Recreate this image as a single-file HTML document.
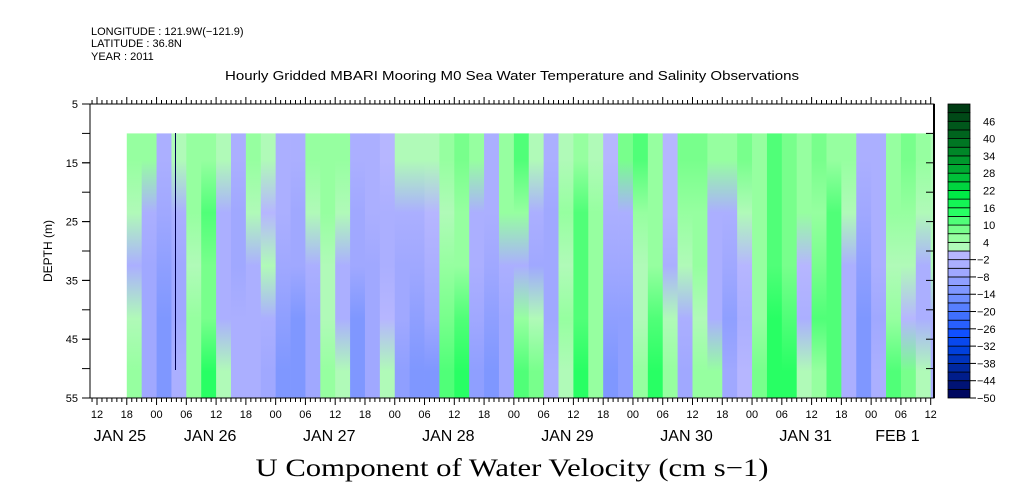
<!DOCTYPE html>
<html><head><meta charset="utf-8"><style>
html,body{margin:0;padding:0;background:#fff;}
svg{display:block;font-family:"Liberation Sans",sans-serif;}
</style></head><body>
<svg id="chart" width="1009" height="504" viewBox="0 0 1009 504" xmlns="http://www.w3.org/2000/svg">
<g font-size="11" fill="#000">
<text x="91" y="35">LONGITUDE : 121.9W(−121.9)</text>
<text x="91" y="47">LATITUDE : 36.8N</text>
<text x="91" y="60">YEAR : 2011</text>
</g>
<text x="512" y="80" font-size="12.5" text-anchor="middle" textLength="574" lengthAdjust="spacingAndGlyphs">Hourly Gridded MBARI Mooring M0 Sea Water Temperature and Salinity Observations</text>
<defs id="defs"><clipPath id="pc"><rect x="90" y="104" width="844" height="294"/></clipPath></defs>
<g id="cells" clip-path="url(#pc)"></g>
<g id="axes"></g>
<g id="cbar"></g>
<text x="0" y="0" transform="translate(52,251) rotate(-90)" font-size="12" text-anchor="middle">DEPTH (m)</text>
<text x="512" y="476" font-family="Liberation Serif, serif" font-size="25" text-anchor="middle" textLength="513" lengthAdjust="spacingAndGlyphs">U Component of Water Velocity (cm s−1)</text>
</svg>
<script>
// depth band centres (m)
const depths = [14.5, 23.5, 32.5, 41.5, 50.5];
// column start: hours after Jan 25 12:00, step 3 h
const startHour = 6;
const stepHours = 3;
// u velocity (cm/s) per column, rows = depths
const uValues = [
[5,1,-4,2,4],[5,-4,-6,-6,-8],[-5,-8,-10,-12,-12],[3,-5,-8,-6,-5],[5,4,3,4,6],
[6,10,8,8,14],[3,-3,-5,-3,2],[-3,-6,-8,-5,-5],[5,3,-3,-5,-5],[3,-2,2,-4,-6],
[-3,-5,-6,-10,-12],[-4,-6,-8,-12,-12],[4,2,-4,-6,-6],[6,4,3,3,5],[4,2,-4,-5,2],
[-4,-6,-8,-12,-12],[-3,-5,-6,-8,-8],[-2,-4,-4,-2,3],[3,-3,-6,-8,-10],[3,-4,-6,-10,-14],
[2,-2,-4,-8,-12],[4,3,4,8,10],[8,5,6,12,14],[4,-3,-5,-8,-10],[-3,-5,-6,-10,-12],
[6,4,-4,-6,-6],[10,5,-3,5,12],[3,-4,-6,3,8],[-3,-6,-8,-6,-5],[3,4,2,4,3],
[6,12,12,12,14],[3,5,4,6,4],[-2,-5,-8,-10,-12],[8,-3,-6,-10,-10],[10,4,2,3,5],
[6,5,4,10,14],[-2,-2,-4,3,4],[8,5,3,-4,-8],[8,6,4,2,5],[6,-4,-5,-3,5],
[6,-4,-8,-10,-6],[8,3,-2,-5,-2],[6,6,6,5,8],[10,12,12,14,14],[8,8,8,10,14],
[5,4,-2,-4,3],[8,6,8,10,6],[6,10,12,12,10],[5,3,-3,-5,-4],[-4,-8,-10,-12,-12],
[-3,-5,-5,-6,-5],[6,4,2,4,12],[8,6,3,-2,8],[4,2,-4,-5,3],[3,2,3,-4,-5]
];
const yTicks = [5,15,25,35,45,55];
const cbLabels = [46,40,34,28,22,16,10,4,-2,-8,-14,-20,-26,-32,-38,-44,-50];
const hourLabels = ["12","18","00","06","12","18","00","06","12","18","00","06","12","18","00","06","12","18","00","06","12","18","00","06","12","18","00","06","12"];
const dayLabels = ["JAN 25","JAN 26","JAN 27","JAN 28","JAN 29","JAN 30","JAN 31","FEB  1"];
const dayLabelHours = [4.6,22.8,46.8,70.8,94.8,118.8,142.8,161.3];

const NS='http://www.w3.org/2000/svg';
const X0=97, PXH=119.1/24;
const xs=h=>X0+h*PXH;
const ys=d=>104+(d-5)*(294/50);
function mk(t,a,p){const e=document.createElementNS(NS,t);for(const k in a)e.setAttribute(k,a[k]);(p||document.getElementById('chart')).appendChild(e);return e;}
function lerp(a,b,t){return a.map((v,i)=>Math.round(v+(b[i]-v)*t));}
function hex(c){return 'rgb('+c.join(',')+')';}
const negStops=[[0,[182,182,255]],[2,[160,168,255]],[5,[110,142,255]],[7,[64,112,255]],[9,[16,80,255]],[11,[0,64,220]],[13,[0,40,160]],[16,[0,8,96]]];
const posStops=[[0,[176,250,184]],[1,[150,255,160]],[2,[120,255,140]],[4,[40,255,100]],[6,[0,235,70]],[9,[0,170,50]],[13,[0,100,30]],[16,[0,60,20]]];
function stopCol(stops,i){for(let k=0;k<stops.length-1;k++){if(i<=stops[k+1][0]){return lerp(stops[k][1],stops[k+1][1],(i-stops[k][0])/(stops[k+1][0]-stops[k][0]));}}return stops[stops.length-1][1];}
function color(v){const b=Math.floor((v+50)/3);
 if(b>=17)return hex(stopCol(posStops,Math.min(b-17,16)));
 return hex(stopCol(negStops,Math.min(16-Math.max(b,0),16)));}

// heatmap: one vertically graded column per time step
const cells=document.getElementById('cells');
const defs=document.getElementById('defs');
const yTop=ys(10), yBot=ys(55);
uValues.forEach((col,i)=>{
 const x1=xs(startHour+i*stepHours), x2=xs(startHour+(i+1)*stepHours);
 const g=mk('linearGradient',{id:'g'+i,x1:0,y1:0,x2:0,y2:1},defs);
 col.forEach((v,j)=>{const off=(ys(depths[j])-yTop)/(yBot-yTop);mk('stop',{offset:off.toFixed(3),'stop-color':color(v)},g);});
 const r=mk('rect',{x:x1.toFixed(2),y:yTop.toFixed(2),width:(x2-x1+0.4).toFixed(2),height:(yBot-yTop).toFixed(2),fill:'url(#g'+i+')'},cells);
 
 
});
const gl=mk('line',{x1:175.5,y1:133,x2:175.5,y2:370,stroke:'#000050','stroke-width':1},cells);



// axes
const ax=document.getElementById('axes');
const fr=mk('rect',{x:90,y:104,width:844,height:294,fill:'none',stroke:'#000','stroke-width':1},ax);


mk('line',{x1:934,y1:104,x2:934,y2:398,stroke:'#000','stroke-width':2},ax);
for(let h=-1;h<=169;h++){const x=xs(h);if(x<90||x>934)continue;const L=(h%6===0)?7:4;
 mk('line',{x1:x,y1:104,x2:x,y2:104-L,stroke:'#000'},ax);
 mk('line',{x1:x,y1:398,x2:x,y2:398+L,stroke:'#000'},ax);}
hourLabels.forEach((s,i)=>{const t=mk('text',{x:xs(i*6),y:418,'font-size':11,'text-anchor':'middle'},ax);t.textContent=s;
 
 });
dayLabels.forEach((s,i)=>{const t=mk('text',{x:xs(dayLabelHours[i]),y:441,'font-size':16,'text-anchor':'middle','xml:space':'preserve'},ax);t.textContent=s;
 
 });
for(let d=10;d<=50;d+=5){const y=ys(d);mk('line',{x1:82,y1:y,x2:90,y2:y,stroke:'#000'},ax);mk('line',{x1:926,y1:y,x2:934,y2:y,stroke:'#000'},ax);}
yTicks.forEach(d=>{const y=ys(d);mk('line',{x1:82,y1:y,x2:90,y2:y,stroke:'#000'},ax);
 const t=mk('text',{x:78,y:y+4,'font-size':11,'text-anchor':'end'},ax);t.textContent=d;
 
 });

// colorbar
const cb=document.getElementById('cbar');
const cbY=v=>398-(v+50)*(294/102);
for(let v=-50;v<52;v+=3){const r=mk('rect',{x:948,y:cbY(v+3),width:22,height:294/34,fill:color(v+0.5),stroke:'#000','stroke-width':0.8},cb);
 
 }
cbLabels.forEach(v=>{const y=cbY(v);
 if(v<0)mk('line',{x1:970,y1:y,x2:976,y2:y,stroke:'#000'},cb);
 const t=mk('text',{x:v<0?977:983,y:y+4,'font-size':11},cb);t.textContent=v<0?String(v).replace('-','−'):v;
 
 });
</script>
</body></html>
